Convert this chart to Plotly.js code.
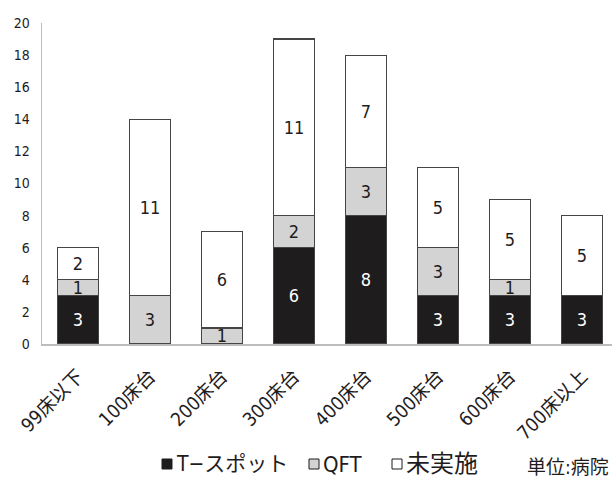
<!DOCTYPE html>
<html>
<head>
<meta charset="utf-8">
<script src="https://cdn.plot.ly/plotly-3.0.1.min.js"></script>
<style>html,body{margin:0;padding:0;background:#fff;}#chart{width:612px;height:479px;}</style>
</head>
<body>
<div id="chart"></div>
<script>
const categories = ['99床以下', '100床台', '200床台', '300床台', '400床台', '500床台', '600床台', '700床以上'];
const tspot = [3, 0, 0, 6, 8, 3, 3, 3];
const qft = [1, 3, 1, 2, 3, 3, 1, 0];
const notDone = [2, 11, 6, 11, 7, 5, 5, 5];
const seriesNames = ['T−スポット', 'QFT', '未実施'];
const seriesColors = ['#1f1c1d', '#d3d3d3', '#ffffff'];
const yTicks = [0, 2, 4, 6, 8, 10, 12, 14, 16, 18, 20];
const unitLabel = '単位:病院';

const FONT = '"Liberation Sans Narrow", "DejaVu Sans Condensed", Roboto, "Noto Sans CJK JP", sans-serif';
const lbl = arr => arr.map(v => v === 0 ? '' : String(v));

function mk(i, vals, txtColor) {
  return {
    type: 'bar', name: seriesNames[i], x: categories, y: vals,
    text: lbl(vals), textposition: 'inside', insidetextanchor: 'middle',
    constraintext: 'none', textangle: 0, cliponaxis: false,
    textfont: {family: FONT, size: 18, color: txtColor},
    marker: {color: seriesColors[i], line: {color: '#454545', width: 1.2}},
    width: 0.57, hoverinfo: 'none', showlegend: false
  };
}

const data = [
  mk(0, tspot, '#ffffff'),
  mk(1, qft, '#1f1c1d'),
  mk(2, notDone, '#1f1c1d')
];

// pixel helpers for legend placement (plot area: x 42..612, y 23..344)
const px = x => (x - 42) / 570;
const py = y => (344 - y) / 321;

const legendKeys = [162, 309, 392];
const legendSizes = [21, 22, 24];
const legendCY = 464;
const shapes = legendKeys.map((x, i) => ({
  type: 'rect', xref: 'paper', yref: 'paper',
  x0: px(x), x1: px(x + 10), y0: py(legendCY + 5), y1: py(legendCY - 5),
  fillcolor: seriesColors[i], line: {color: '#1f1c1d', width: 1}
}));
const annotations = legendKeys.map((x, i) => ({
  text: seriesNames[i], xref: 'paper', yref: 'paper',
  x: px(x + 12), y: py(legendCY), xanchor: 'left', yanchor: 'middle',
  showarrow: false, font: {family: FONT, size: legendSizes[i], color: '#1f1c1d'}
}));
annotations.push({
  text: unitLabel, xref: 'paper', yref: 'paper', x: px(525), y: py(467),
  xanchor: 'left', yanchor: 'middle', showarrow: false,
  font: {family: FONT, size: 19, color: '#1f1c1d'}
});

const layout = {
  width: 612, height: 479,
  margin: {l: 42, r: 0, t: 23, b: 135},
  paper_bgcolor: '#ffffff', plot_bgcolor: '#ffffff',
  barmode: 'stack',
  font: {family: FONT, color: '#1f1c1d'},
  showlegend: false,
  xaxis: {
    type: 'category', range: [-0.5, 7.417],
    showline: true, linecolor: '#bdbdbd', linewidth: 1.5,
    showgrid: false, zeroline: false, ticks: '',
    tickangle: -45, ticklabelstandoff: 12,
    tickfont: {family: FONT, size: 19, color: '#1f1c1d'}
  },
  yaxis: {
    range: [0, 20], tickvals: yTicks, ticktext: yTicks.map(String),
    showline: true, linecolor: '#bdbdbd', linewidth: 1.5,
    showgrid: false, zeroline: false, ticks: '', ticklabelstandoff: 8,
    tickfont: {family: FONT, size: 14, color: '#1f1c1d'}
  },
  shapes: shapes,
  annotations: annotations
};

Plotly.newPlot('chart', data, layout, {staticPlot: true, displayModeBar: false});
</script>
</body>
</html>
